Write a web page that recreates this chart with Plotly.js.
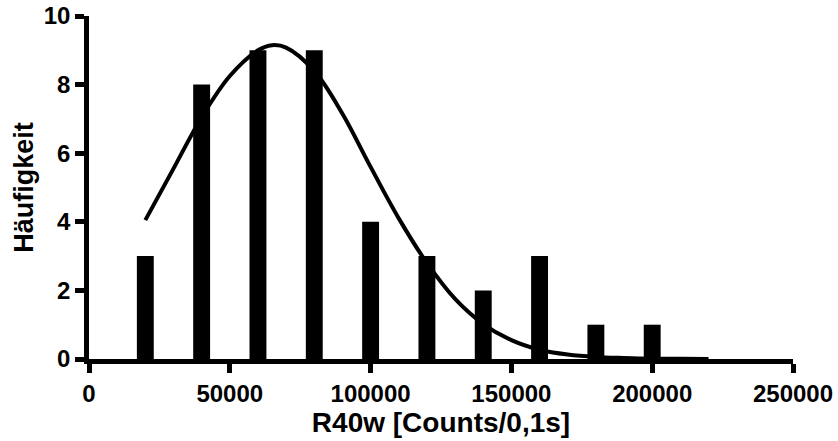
<!DOCTYPE html>
<html>
<head>
<meta charset="utf-8">
<script src="https://cdn.plot.ly/plotly-3.0.1.min.js"></script>
<style>html,body{margin:0;padding:0;background:#fff;}#chart{width:838px;height:441px;}</style>
</head>
<body>
<div id="chart"></div>
<script>
// Histogram bins (bin centres) and counts
const binCenters = [20000, 40000, 60000, 80000, 100000, 120000, 140000, 160000, 180000, 200000];
const counts = [3, 8, 9, 9, 4, 3, 2, 3, 1, 1];

// Fitted Gaussian curve
const fitX = [20000, 30000, 40000, 50000, 60000, 65000, 70000, 80000, 90000, 100000, 110000, 120000, 130000, 140000, 150000, 160000, 170000, 180000, 190000, 200000, 210000, 220000];
const fitY = [4.05, 5.55, 7.05, 8.25, 9.0, 9.15, 9.08, 8.4, 7.15, 5.6, 4.1, 2.8, 1.75, 1.02, 0.55, 0.27, 0.13, 0.06, 0.03, 0.01, 0.005, 0.002];

const xTicks = [0, 50000, 100000, 150000, 200000, 250000];
const yTicks = [0, 2, 4, 6, 8, 10];

const FONT = 'Liberation Sans, Arial, Helvetica, sans-serif';

const traces = [
  {
    type: 'bar',
    x: binCenters,
    y: counts,
    width: 6000,
    marker: {color: 'black'},
    hoverinfo: 'none'
  },
  {
    type: 'scatter',
    mode: 'lines',
    x: fitX,
    y: fitY,
    line: {color: 'black', width: 4, shape: 'spline'},
    hoverinfo: 'none'
  }
];

const layout = {
  width: 838,
  height: 441,
  margin: {l: 89, r: 45, t: 16, b: 82},
  paper_bgcolor: 'white',
  plot_bgcolor: 'white',
  showlegend: false,
  xaxis: {
    range: [0, 250000],
    tickvals: xTicks,
    tickformat: 'd',
    ticks: 'outside', ticklen: 9, tickwidth: 4.5, tickcolor: 'black',
    showline: true, linewidth: 4.5, linecolor: 'black',
    showgrid: false, zeroline: false,
    tickfont: {family: FONT, size: 24, color: 'black', weight: 'bold'},
    title: {text: 'R40w [Counts/0,1s]', font: {family: FONT, size: 28, color: 'black', weight: 'bold'}, standoff: 1}
  },
  yaxis: {
    range: [0, 10],
    tickvals: yTicks,
    ticks: 'outside', ticklen: 9, tickwidth: 4.5, tickcolor: 'black',
    showline: true, linewidth: 4.5, linecolor: 'black',
    showgrid: false, zeroline: false,
    tickfont: {family: FONT, size: 24, color: 'black', weight: 'bold'},
    title: {text: 'Häufigkeit', font: {family: FONT, size: 27, color: 'black', weight: 'bold'}, standoff: 4}
  }
};

Plotly.newPlot('chart', traces, layout, {displayModeBar: false});
</script>
</body>
</html>
